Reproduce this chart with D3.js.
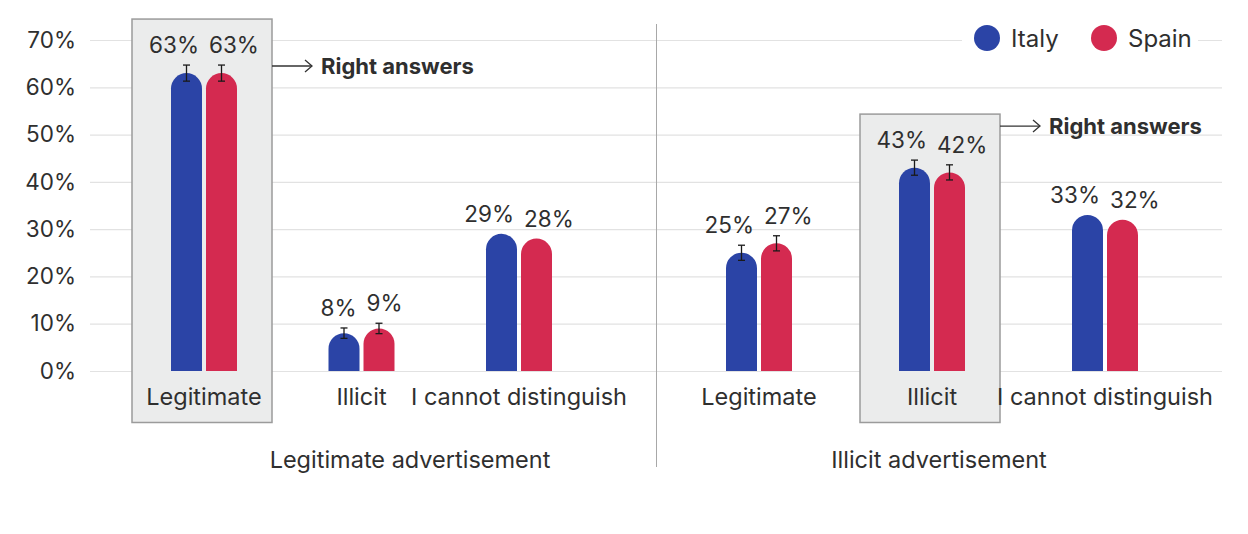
<!DOCTYPE html>
<html><head><meta charset="utf-8">
<script src="https://cdn.jsdelivr.net/npm/d3@7/dist/d3.min.js"></script>
<style>body{margin:0;background:#fff}svg{display:block;font-family:Inter,"Noto Sans",sans-serif}</style>
</head><body><svg id="c" width="1248" height="534"></svg>
<script>
// ---- data ----
const panels = ["Legitimate advertisement", "Illicit advertisement"];
const categories = ["Legitimate", "Illicit", "I cannot distinguish"];
const series = ["Italy", "Spain"];
const italyValues = [[63, 8, 29], [25, 43, 33]];
const spainValues = [[63, 9, 28], [27, 42, 32]];
const italyErrors = [[1.7, 1.1, null], [1.6, 1.6, null]];
const spainErrors = [[1.7, 1.1, null], [1.6, 1.6, null]];
const rightAnswers = ["Legitimate", "Illicit"];
const annotationLevels = [64.5, 51.8];
const annotationText = "Right answers";
const yTicks = [0, 10, 20, 30, 40, 50, 60, 70];

// ---- layout ----
const colors = {Italy: "#2b44a6", Spain: "#d42a50"};
const textColor = "#2f2f2f";
const svg = d3.select("#c");
const y = d3.scaleLinear().domain([0, 70]).range([371, 40]);
const gridX = [90, 1222];
const dividerX = 656.5;
const panelRanges = [[204, 519], [759, 1105]];
const titleX = [410, 939];
const barW = 31, barGap = 4;
const boxW = 140;
const seriesX = d3.scaleOrdinal().domain(series).range([-barGap / 2 - barW, barGap / 2]);

// grid
svg.append("g").selectAll("line").data(yTicks).join("line")
  .attr("x1", gridX[0]).attr("x2", gridX[1])
  .attr("y1", d => y(d) + 0.5).attr("y2", d => y(d) + 0.5)
  .attr("stroke", "#e2e2e2").attr("stroke-width", 1.2);

// y axis labels
const yAxis = d3.axisLeft(y).tickValues(yTicks).tickFormat(d => d + "%").tickSize(0).tickPadding(0);
const ya = svg.append("g").attr("transform", "translate(76,0)").call(yAxis);
ya.select(".domain").remove();
ya.selectAll("text").attr("font-size", 22.5).attr("fill", textColor).attr("font-family", "Inter, sans-serif");

// divider
svg.append("line").attr("x1", dividerX).attr("x2", dividerX).attr("y1", 24).attr("y2", 467)
  .attr("stroke", "#a8a8a8").attr("stroke-width", 1);

function barPath(x, w, y0, y1) {
  const r = w / 2;
  const top = Math.min(y1 + r, y0);
  return `M${x},${y0}L${x},${top}A${r},${r} 0 0 1 ${x + w},${top}L${x + w},${y0}Z`;
}

panels.forEach((pname, pi) => {
  const xs = d3.scalePoint().domain(categories).range(panelRanges[pi]);
  const g = svg.append("g");
  const rows = categories.map((c, ci) => ({
    cat: c,
    vals: [
      {s: "Italy", v: italyValues[pi][ci], e: italyErrors[pi][ci]},
      {s: "Spain", v: spainValues[pi][ci], e: spainErrors[pi][ci]}
    ]
  }));
  const labelY = d => y(d.v + (d.e || 0)) - 12;

  // highlight box
  const ra = rows.find(r => r.cat === rightAnswers[pi]);
  const cx = xs(ra.cat) - 2;
  const boxTop = d3.min(ra.vals, labelY) - 34;
  const boxBottom = 422.5;
  g.append("rect").attr("x", cx - boxW / 2).attr("y", boxTop)
    .attr("width", boxW).attr("height", boxBottom - boxTop)
    .attr("fill", "#ebecec").attr("stroke", "#9b9b9b").attr("stroke-width", 1.5);
  // annotation arrow
  const ax0 = cx + boxW / 2, ax1 = ax0 + 40, ay = y(annotationLevels[pi]);
  g.append("line").attr("x1", ax0).attr("x2", ax1).attr("y1", ay).attr("y2", ay)
    .attr("stroke", "#333").attr("stroke-width", 1.3);
  g.append("path").attr("d", `M${ax1 - 7},${ay - 6}L${ax1},${ay}L${ax1 - 7},${ay + 6}`)
    .attr("fill", "none").attr("stroke", "#333").attr("stroke-width", 1.3);
  g.append("text").attr("x", ax1 + 9).attr("y", ay).attr("dy", "0.36em")
    .attr("font-size", 22).attr("font-weight", 700).attr("fill", textColor).text(annotationText);

  rows.forEach(r => {
    const c = xs(r.cat);
    r.vals.forEach(d => {
      const bx = c + seriesX(d.s);
      g.append("path").attr("d", barPath(bx, barW, y(0), y(d.v))).attr("fill", colors[d.s]);
      if (d.e != null) {
        const ex = bx + barW / 2;
        const eg = g.append("g").attr("stroke", "#1a1a1a").attr("stroke-width", 1.3);
        eg.append("line").attr("x1", ex).attr("x2", ex).attr("y1", y(d.v + d.e)).attr("y2", y(d.v - d.e));
        eg.append("line").attr("x1", ex - 3.5).attr("x2", ex + 3.5).attr("y1", y(d.v + d.e)).attr("y2", y(d.v + d.e));
        eg.append("line").attr("x1", ex - 3.5).attr("x2", ex + 3.5).attr("y1", y(d.v - d.e)).attr("y2", y(d.v - d.e));
      }
      const isItaly = d.s === "Italy";
      g.append("text").attr("x", isItaly ? c - 5 : c + 5).attr("y", labelY(d))
        .attr("text-anchor", isItaly ? "end" : "start")
        .attr("font-size", 22.5).attr("fill", textColor).text(d.v + "%");
    });
    g.append("text").attr("x", c).attr("y", 405).attr("text-anchor", "middle")
      .attr("font-size", 23.5).attr("fill", textColor).text(r.cat);
  });

  svg.append("text").attr("x", titleX[pi]).attr("y", 468).attr("text-anchor", "middle")
    .attr("font-size", 23.5).attr("fill", textColor).text(pname);
});

// legend
const lg = svg.append("g");
lg.append("rect").attr("x", 962).attr("y", 18).attr("width", 236).attr("height", 40).attr("fill", "#fff");
const legX = d3.scaleOrdinal().domain(series).range([987, 1104]);
series.forEach(s => {
  lg.append("circle").attr("cx", legX(s)).attr("cy", 38).attr("r", 13).attr("fill", colors[s]);
  lg.append("text").attr("x", legX(s) + 24).attr("y", 38).attr("dy", "0.36em")
    .attr("font-size", 24).attr("fill", textColor).text(s);
});
</script></body></html>
